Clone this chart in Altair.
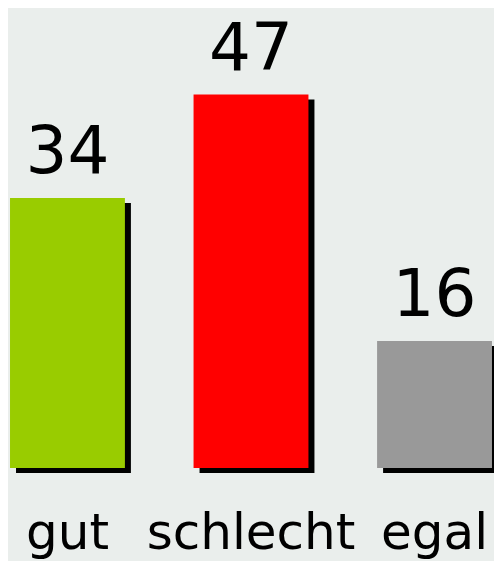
import altair as alt
import pandas as pd

categories = ["gut", "schlecht", "egal"]
values = [34, 47, 16]
colors = ["#99cc00", "#ff0000", "#999999"]

df = pd.DataFrame({"cat": categories, "val": values, "color": colors})

x = alt.X("cat:N", sort=categories,
          scale=alt.Scale(paddingInner=0.374, paddingOuter=0.011),
          axis=alt.Axis(title=None, ticks=False, tickSize=0, domain=False, labelAngle=0,
                        labelFontSize=50, labelFont="Verdana, DejaVu Sans",
                        labelColor="#000000", labelBaseline="alphabetic",
                        labelPadding=80, labelLimit=0, grid=False))
y = alt.Y("val:Q", scale=alt.Scale(domain=[0, 57.9], nice=False, zero=True),
          axis=None)

base = alt.Chart(df)

shadow = base.mark_bar(color="#000000", xOffset=6, yOffset=5, y2Offset=3).encode(x=x, y=y)
bars = base.mark_bar().encode(x=x, y=y, color=alt.Color("color:N", scale=None))
labels = base.mark_text(baseline="alphabetic", dy=-25, fontSize=66,
                        font="Verdana, DejaVu Sans", color="#000000").encode(
    x=x, y=y, text="val:Q")

chart = alt.layer(shadow, bars, labels).properties(
    width=486, height=460,
    background="#eaeeec",
    padding={"left": 0, "top": 0, "right": 0, "bottom": 93},
    autosize=alt.AutoSizeParams(type="none"),
).configure_view(strokeWidth=0, fill="#eaeeec")

chart.save("out.html", embed_options={"renderer": "svg", "actions": False})
